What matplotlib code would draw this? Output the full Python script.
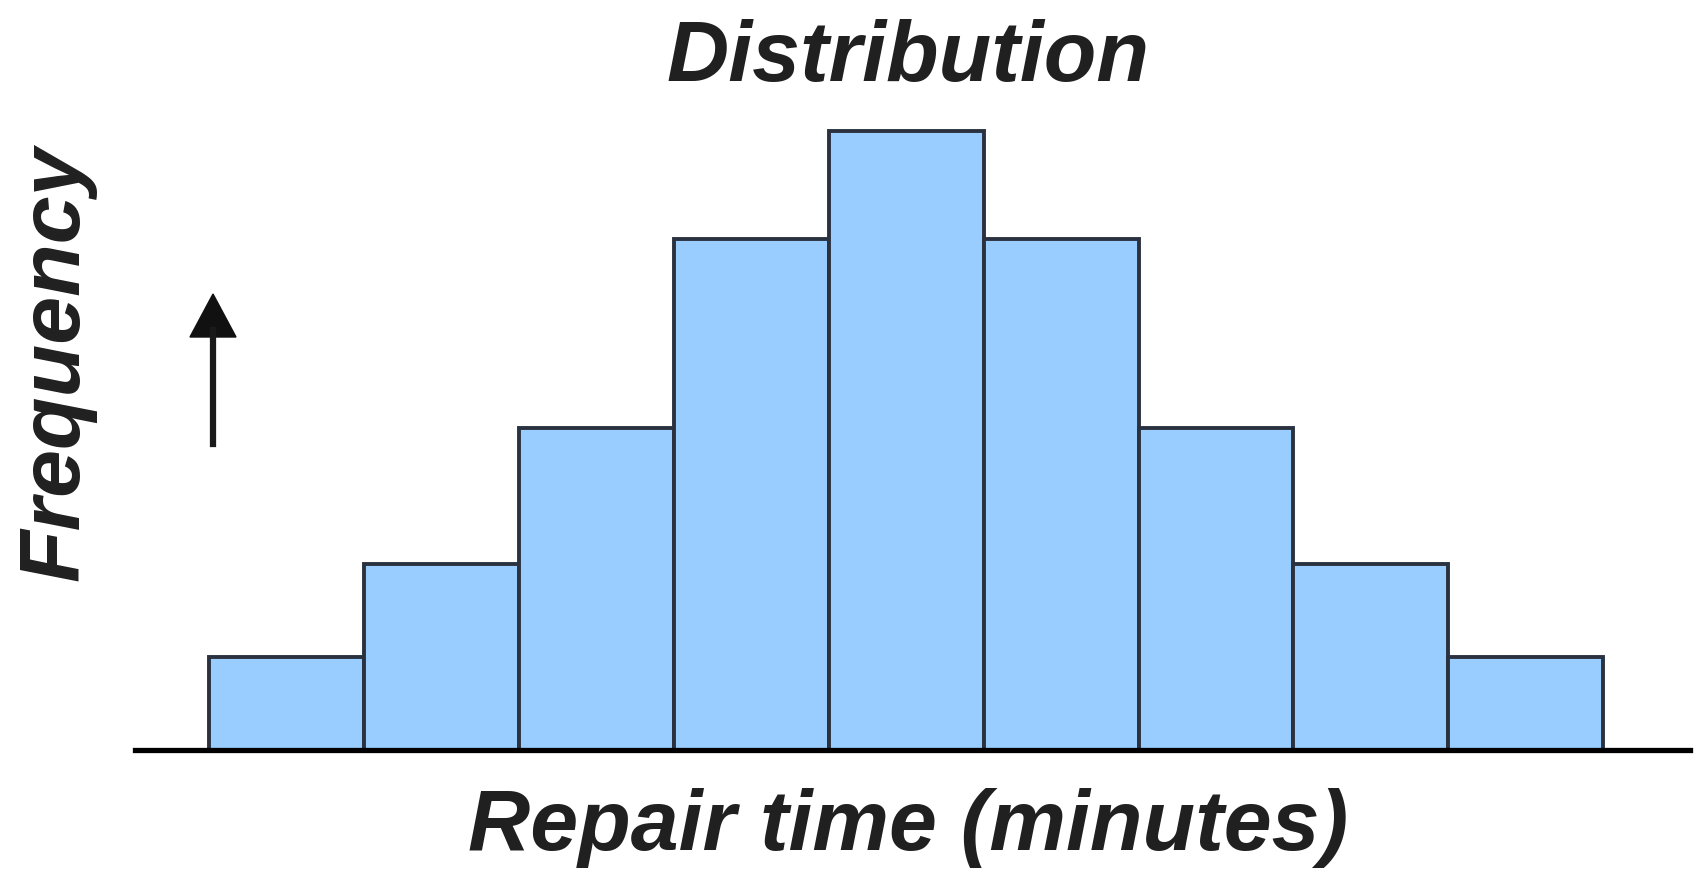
import numpy as np
import matplotlib.pyplot as plt

# histogram bins (unlabelled in the original) and their frequencies
bins = np.arange(9)
freq = [3.0, 6.0, 10.4, 16.5, 20.0, 16.5, 10.4, 6.0, 3.0]

title = "Distribution"
xlabel = "Repair time (minutes)"
ylabel = "Frequency"

W, H = 1698, 872
fig = plt.figure(figsize=(W / 100, H / 100), dpi=100)

# axes placed in pixel terms so the baseline spans like the original
left, right, bottom, top = 135, 1690, 750, 100
ax = fig.add_axes([left / W, 1 - bottom / H, (right - left) / W, (bottom - top) / H])

ax.bar(bins + 0.5, freq, width=1.0, color="#99ccff", edgecolor="#2a3240",
       linewidth=2.8, zorder=2)

ax.set_xlim(-0.478, 9.56)
ax.set_ylim(0, 21.0)
for s in ["top", "right", "left"]:
    ax.spines[s].set_visible(False)
ax.spines["bottom"].set_linewidth(3.8)
ax.spines["bottom"].set_zorder(3)
ax.set_xticks([])
ax.set_yticks([])
ax.patch.set_alpha(0)

font = dict(family="Liberation Sans", style="italic", weight="bold", fontsize=62,
            color="#202020")
fig.text(908 / W, 1 - 81 / H, title, ha="center", va="baseline", **font)
fig.text(908 / W, 1 - 850 / H, xlabel, ha="center", va="baseline", **font)
fig.text(56 / W, 1 - 363 / H, ylabel, ha="center", va="center", rotation=90, **font)

# the little "up" arrow beside the y label
ax_x = 213 / W
fig.add_artist(plt.Line2D([ax_x, ax_x], [1 - 444 / H, 1 - 330 / H],
                          transform=fig.transFigure, color="#1a1a1a", lw=4.5))
fig.patches.append(plt.Polygon([[ax_x - 23 / W, 1 - 337 / H], [ax_x + 23 / W, 1 - 337 / H],
                                [ax_x, 1 - 294 / H]], closed=True,
                               transform=fig.transFigure, color="#111111", figure=fig))

fig.savefig("out.png", dpi=100)
